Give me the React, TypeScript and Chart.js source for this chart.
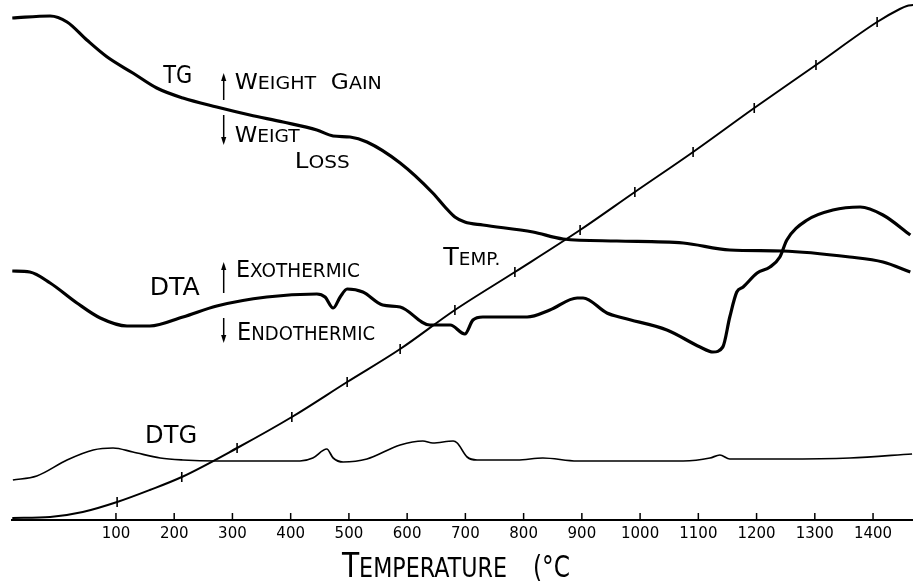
import React, { useEffect, useRef } from "react";
import { Chart, registerables } from "chart.js";

Chart.register(...registerables);

// ---------- data (x in °C, y in arbitrary signal units) ----------
const X_MIN = -78.5;
const X_MAX = 1468.6;
const Y_MIN = 0;
const Y_MAX = 104;

const X_TICKS = [100, 200, 300, 400, 500, 600, 700, 800, 900, 1000, 1100, 1200, 1300, 1400];

const TG_T = [-78, -13, 16, 50, 85, 129, 170, 215, 273, 330, 387, 445, 473, 502, 531, 588, 644, 665, 682, 699, 730, 816, 868, 960, 1074, 1154, 1245, 1360, 1417, 1464];
const TG_V = [100.4, 100.8, 99.6, 96, 92.6, 89.4, 86.4, 84.4, 82.6, 81, 79.6, 78, 76.8, 76.6, 75.6, 71.4, 65.4, 62.6, 60.6, 59.6, 59, 57.6, 56.2, 55.8, 55.4, 54, 53.8, 52.6, 51.6, 49.6];

const DTA_T = [-78, -48, -13, 33, 73, 119, 158, 215, 273, 359, 445, 459, 473, 485, 497, 524, 558, 588, 639, 674, 699, 713, 730, 806, 845, 892, 902, 943, 971, 1046, 1103, 1125, 1142, 1154, 1166, 1177, 1201, 1223, 1240, 1252, 1287, 1331, 1378, 1417, 1464];
const DTA_V = [49.8, 49.6, 47.4, 43.4, 40.4, 38.8, 38.8, 40.6, 42.8, 44.6, 45.2, 44.6, 42.4, 44.6, 46.2, 45.6, 43, 42.6, 39, 39, 37.2, 40, 40.6, 40.6, 42, 44.4, 44.4, 41.4, 40.4, 38, 34.6, 33.6, 34.6, 40.6, 45.6, 46.6, 49.4, 50.6, 52.6, 56, 60, 62, 62.6, 61, 57];

const DTG_T = [-77, -36, 16, 61, 95, 129, 176, 215, 273, 416, 438, 462, 473, 490, 531, 588, 627, 644, 679, 686, 703, 720, 789, 833, 892, 1074, 1120, 1137, 1154, 1245, 1360, 1467];
const DTG_V = [8, 8.8, 12, 14, 14.4, 13.6, 12.4, 12, 11.8, 11.8, 12.4, 14.2, 12.4, 11.6, 12.2, 15, 15.8, 15.4, 15.8, 15.4, 12.6, 12, 12, 12.4, 11.8, 11.8, 12.4, 13, 12.2, 12.2, 12.4, 13.2];

const TEMP_T = [-78, -13, 43, 102, 158, 213, 308, 402, 497, 588, 682, 785, 897, 991, 1091, 1196, 1302, 1407, 1446, 1458, 1469];
const TEMP_V = [0.4, 0.6, 1.6, 3.6, 6, 8.6, 14.4, 20.6, 27.6, 34.2, 42, 49.6, 58, 65.6, 73.6, 82.4, 91, 99.6, 102.2, 102.8, 103];
const TEMP_MARKS = [102, 213, 308, 402, 497, 588, 682, 785, 897, 991, 1091, 1196, 1302, 1407];

// ---------- annotation layout ----------
const FONT = '"DejaVu Sans", "Liberation Sans", sans-serif';

type Lbl = { text: string; t: number; v: number; big: number; small: number; width: number; allBig?: boolean; gap?: number };
const LABELS: Lbl[] = [
  { text: "TG", t: 181, v: 87.4, big: 25, small: 25, width: 29, allBig: true },
  { text: "DTA", t: 158, v: 45, big: 24, small: 24, width: 50, allBig: true },
  { text: "DTG", t: 150, v: 15.4, big: 25, small: 25, width: 52, allBig: true },
  { text: "Temp.", t: 662, v: 51, big: 25, small: 18, width: 57 },
  { text: "Weight Gain", t: 304, v: 86.2, big: 22, small: 18, width: 147, gap: 14 },
  { text: "Weigt", t: 304, v: 75.6, big: 22, small: 18, width: 65 },
  { text: "Loss", t: 407, v: 70.4, big: 22, small: 18, width: 55 },
  { text: "Exothermic", t: 306, v: 48.6, big: 23, small: 19, width: 124 },
  { text: "Endothermic", t: 308, v: 36, big: 25, small: 20, width: 138 },
];

// arrows: x position, tail value, head value
const ARROWS = [
  { t: 285, from: 84, to: 89.4 },
  { t: 285, from: 81, to: 75 },
  { t: 285, from: 45.4, to: 51.6 },
  { t: 285, from: 40.4, to: 35.4 },
];

function drawCaps(ctx: CanvasRenderingContext2D, l: Lbl, x: number, y: number) {
  const runs: { t: string; s: number; w: number; gap?: boolean }[] = [];
  const words = l.text.split(" ");
  words.forEach((w, wi) => {
    if (wi > 0) runs.push({ t: "", s: l.small, w: l.gap ?? l.small * 0.45, gap: true });
    if (l.allBig) runs.push({ t: w.toUpperCase(), s: l.big, w: 0 });
    else {
      runs.push({ t: w[0].toUpperCase(), s: l.big, w: 0 });
      if (w.length > 1) runs.push({ t: w.slice(1).toUpperCase(), s: l.small, w: 0 });
    }
  });
  let natural = 0;
  for (const r of runs) {
    if (!r.gap) {
      ctx.font = `${r.s}px ${FONT}`;
      r.w = ctx.measureText(r.t).width;
    }
    natural += r.w;
  }
  const k = l.width ? l.width / natural : 1;
  ctx.save();
  ctx.translate(x, y);
  ctx.scale(k, 1);
  ctx.textBaseline = "alphabetic";
  ctx.textAlign = "left";
  let cx = 0;
  for (const r of runs) {
    if (!r.gap) {
      ctx.font = `${r.s}px ${FONT}`;
      ctx.fillText(r.t, cx, 0);
    }
    cx += r.w;
  }
  ctx.restore();
}

const annotationPlugin = {
  id: "thermoAnnotations",
  afterDraw(chart: any) {
    const ctx: CanvasRenderingContext2D = chart.ctx;
    const xs = chart.scales.x;
    const ys = chart.scales.y;
    const area = chart.chartArea;
    ctx.save();
    ctx.fillStyle = "#000";
    ctx.strokeStyle = "#000";

    // upward tick marks on the temperature axis
    ctx.lineWidth = 1.5;
    for (const t of X_TICKS) {
      const px = xs.getPixelForValue(t);
      ctx.beginPath();
      ctx.moveTo(px, area.bottom);
      ctx.lineTo(px, area.bottom - 7);
      ctx.stroke();
    }

    // arrows
    for (const a of ARROWS) {
      const px = xs.getPixelForValue(a.t);
      const y1 = ys.getPixelForValue(a.from);
      const y2 = ys.getPixelForValue(a.to);
      const dir = Math.sign(y2 - y1);
      ctx.lineWidth = 1.5;
      ctx.beginPath();
      ctx.moveTo(px, y1);
      ctx.lineTo(px, y2 - dir * 4);
      ctx.stroke();
      ctx.beginPath();
      ctx.moveTo(px, y2);
      ctx.lineTo(px - 2.6, y2 - dir * 8);
      ctx.lineTo(px + 2.6, y2 - dir * 8);
      ctx.closePath();
      ctx.fill();
    }

    // curve labels
    for (const l of LABELS) {
      drawCaps(ctx, l, xs.getPixelForValue(l.t), ys.getPixelForValue(l.v));
    }

    // axis title
    const base = area.bottom + 57;
    drawCaps(ctx, { text: "Temperature", t: 0, v: 0, big: 33, small: 26, width: 165 }, xs.getPixelForValue(488), base);
    drawCaps(ctx, { text: "(°C", t: 0, v: 0, big: 31, small: 31, width: 37, allBig: true }, xs.getPixelForValue(816), base);
    ctx.restore();
  },
};

function pts(xv: number[], yv: number[]) {
  return xv.map((x, i) => ({ x, y: yv[i] }));
}

export default function App() {
  const ref = useRef<HTMLCanvasElement | null>(null);

  useEffect(() => {
    document.body.style.margin = "0";
    const canvas = ref.current;
    if (!canvas) return;
    const common = {
      borderColor: "#000",
      backgroundColor: "#000",
      pointRadius: 0,
      fill: false,
      cubicInterpolationMode: "monotone" as const,
      clip: false as any,
    };
    const chart = new Chart(canvas, {
      type: "line",
      data: {
        datasets: [
          { ...common, label: "TG", data: pts(TG_T, TG_V), borderWidth: 3.2 },
          { ...common, label: "DTA", data: pts(DTA_T, DTA_V), borderWidth: 3.2 },
          { ...common, label: "DTG", data: pts(DTG_T, DTG_V), borderWidth: 1.7 },
          {
            ...common,
            label: "Temp.",
            data: pts(TEMP_T, TEMP_V),
            borderWidth: 2,
            pointStyle: "line",
            rotation: 90,
            pointBorderWidth: 1.6,
            pointBorderColor: "#000",
            pointRadius: (c: any) => (TEMP_MARKS.includes(TEMP_T[c.dataIndex]) ? 5 : 0),
          } as any,
        ],
      },
      options: {
        responsive: false,
        animation: false,
        devicePixelRatio: 1,
        events: [],
        layout: { padding: { left: 12, right: 0, top: 0, bottom: 0 } },
        plugins: {
          legend: { display: false },
          tooltip: { enabled: false },
          title: { display: false },
        },
        scales: {
          x: {
            type: "linear",
            min: X_MIN,
            max: X_MAX,
            afterBuildTicks: (s: any) => {
              s.ticks = X_TICKS.map((value) => ({ value }));
            },
            afterFit: (s: any) => {
              s.height = 65;
            },
            grid: { display: false, drawTicks: false },
            border: { display: true, color: "#000", width: 2 },
            ticks: {
              color: "#000",
              font: { family: FONT, size: 15 },
              padding: 5,
              maxRotation: 0,
              autoSkip: false,
              callback: (v: any) => String(v),
            },
          },
          y: { type: "linear", display: false, min: Y_MIN, max: Y_MAX },
        },
      } as any,
      plugins: [annotationPlugin],
    });
    return () => chart.destroy();
  }, []);

  return (
    <div style={{ width: 913, height: 585, background: "#fff" }}>
      <canvas ref={ref} width={913} height={585} style={{ display: "block" }} />
    </div>
  );
}
